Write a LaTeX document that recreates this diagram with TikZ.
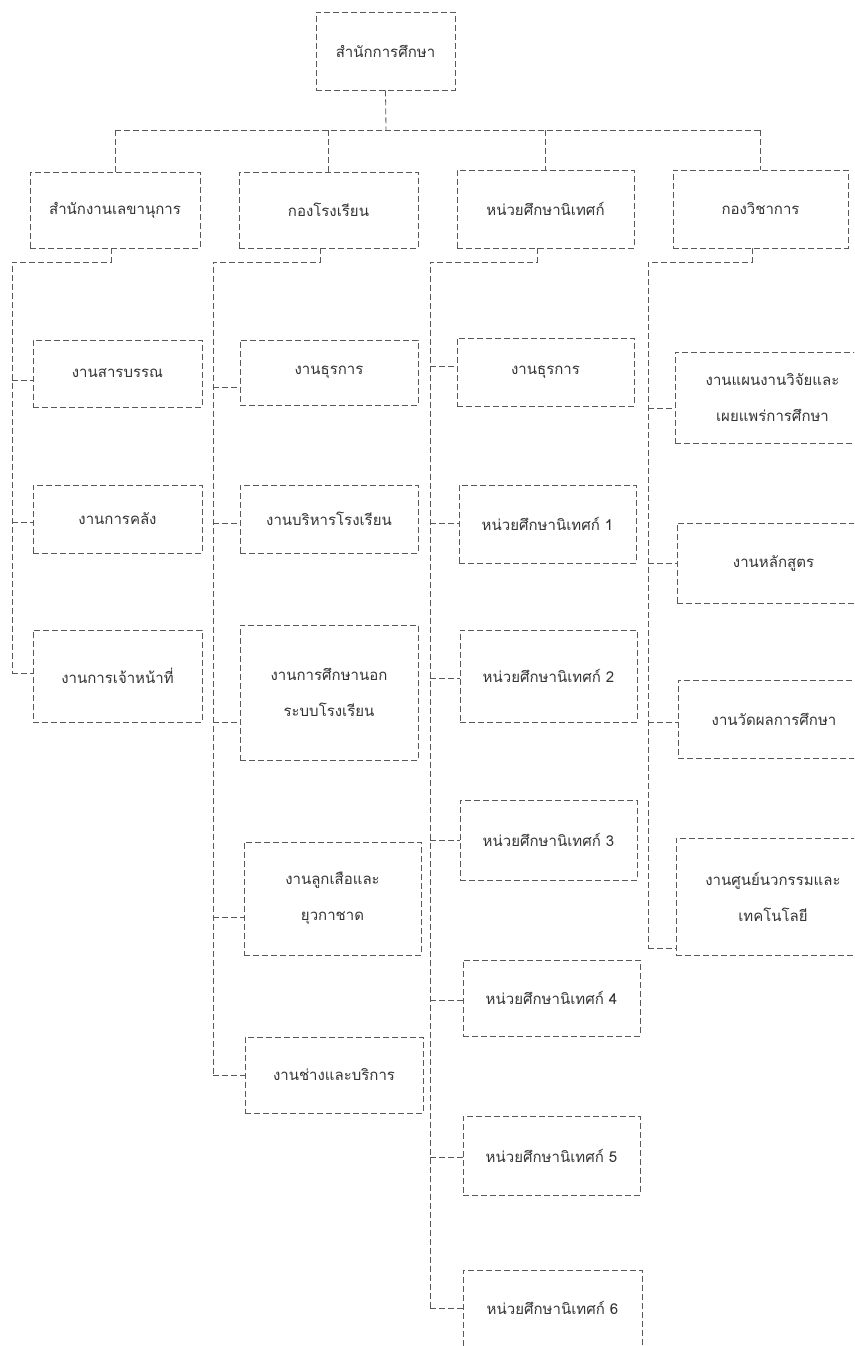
\documentclass[tikz,border=0pt]{standalone}
\usepackage{fontspec}
\newfontfamily\thai[Script=Thai]{Loma}
\definecolor{ln}{gray}{0.35}
\definecolor{tx}{gray}{0.2}
\newcommand\bx[6]{\node[box, minimum width={#4-#2}, minimum height={#5-#3}] (#1) at ({(#2+#4)/2},{(#3+#5)/2}) {#6};}
\begin{document}
\begin{tikzpicture}[x=1pt,y=-1pt,
  box/.style={draw=ln, dash pattern=on 6pt off 3pt, line width=0.8pt, inner sep=0pt,
    align=center, text=tx, font=\thai\fontsize{15}{36}\selectfont},
  conn/.style={draw=ln, dash pattern=on 6pt off 3pt, line width=0.8pt}]
\useasboundingbox (0,0) rectangle (854,1346);
\clip (0,0) rectangle (854,1346);
% top
\bx{top}{316}{12}{455}{90}{สำนักการศึกษา}
% level 2
\bx{L1}{30}{172}{200}{248}{สำนักงานเลขานุการ}
\bx{L2}{239}{172}{418}{248}{กองโรงเรียน}
\bx{L3}{457}{170}{634}{248}{หน่วยศึกษานิเทศก์}
\bx{L4}{673}{170}{848}{248}{กองวิชาการ}
% column 1
\bx{A1}{33}{340}{202}{407}{งานสารบรรณ}
\bx{A2}{33}{485}{202}{553}{งานการคลัง}
\bx{A3}{33}{630}{202}{722}{งานการเจ้าหน้าที่}
% column 2
\bx{B1}{240}{340}{418}{405}{งานธุรการ}
\bx{B2}{240}{485}{418}{553}{งานบริหารโรงเรียน}
\bx{B3}{240}{625}{418}{760}{งานการศึกษานอก\\ระบบโรงเรียน}
\bx{B4}{244}{842}{421}{955}{งานลูกเสือและ\\ยุวกาชาด}
\bx{B5}{245}{1037}{423}{1113}{งานช่างและบริการ}
% column 3
\bx{C1}{457}{338}{634}{406}{งานธุรการ}
\bx{C2}{459}{485}{636}{563}{หน่วยศึกษานิเทศก์ 1}
\bx{C3}{460}{630}{637}{722}{หน่วยศึกษานิเทศก์ 2}
\bx{C4}{460}{800}{637}{880}{หน่วยศึกษานิเทศก์ 3}
\bx{C5}{463}{960}{640}{1036}{หน่วยศึกษานิเทศก์ 4}
\bx{C6}{463}{1116}{640}{1195}{หน่วยศึกษานิเทศก์ 5}
\bx{C7}{463}{1270}{642}{1346}{หน่วยศึกษานิเทศก์ 6}
% column 4
\bx{D1}{675}{352}{870}{443}{งานแผนงานวิจัยและ\\เผยแพร่การศึกษา}
\bx{D2}{677}{523}{870}{603}{งานหลักสูตร}
\bx{D3}{678}{680}{870}{758}{งานวัดผลการศึกษา}
\bx{D4}{676}{838}{870}{955}{งานศูนย์นวกรรมและ\\เทคโนโลยี}
% bus
\coordinate (bus) at (386,130);
\draw[conn] (top.south) -- (bus);
\draw[conn] (L1.north |- bus) -- (L4.north |- bus);
\foreach \n in {L1,L2,L3,L4} \draw[conn] (\n.north |- bus) -- (\n.north);
% column heads
\coordinate (h1) at (12,262);
\coordinate (h2) at (213,262);
\coordinate (h3) at (430,262);
\coordinate (h4) at (648,262);
\draw[conn] ([xshift=-4pt]L1.south) -- ([xshift=-4pt]L1.south |- h1) -- (h1) -- (h1 |- 0,673);
\draw[conn] ([xshift=-8pt]L2.south) -- ([xshift=-8pt]L2.south |- h2) -- (h2) -- (h2 |- 0,1075);
\draw[conn] ([xshift=-8pt]L3.south) -- ([xshift=-8pt]L3.south |- h3) -- (h3) -- (h3 |- 0,1308);
\draw[conn] ([xshift=-8pt]L4.south) -- ([xshift=-8pt]L4.south |- h4) -- (h4) -- (h4 |- 0,948);
% branches col 1
\draw[conn] (h1 |- 0,380) -- (A1.west |- 0,380);
\draw[conn] (h1 |- 0,522) -- (A2.west |- 0,522);
\draw[conn] (h1 |- 0,673) -- (A3.west |- 0,673);
% branches col 2
\draw[conn] (h2 |- 0,387) -- (B1.west |- 0,387);
\draw[conn] (h2 |- 0,523) -- (B2.west |- 0,523);
\draw[conn] (h2 |- 0,722) -- (B3.west |- 0,722);
\draw[conn] (h2 |- 0,917) -- (B4.west |- 0,917);
\draw[conn] (h2 |- 0,1075) -- (B5.west |- 0,1075);
% branches col 3
\draw[conn] (h3 |- 0,366) -- (C1.west |- 0,366);
\draw[conn] (h3 |- 0,523) -- (C2.west |- 0,523);
\draw[conn] (h3 |- 0,678) -- (C3.west |- 0,678);
\draw[conn] (h3 |- 0,840) -- (C4.west |- 0,840);
\draw[conn] (h3 |- 0,1000) -- (C5.west |- 0,1000);
\draw[conn] (h3 |- 0,1157) -- (C6.west |- 0,1157);
\draw[conn] (h3 |- 0,1308) -- (C7.west |- 0,1308);
% branches col 4
\draw[conn] (h4 |- 0,408) -- (D1.west |- 0,408);
\draw[conn] (h4 |- 0,563) -- (D2.west |- 0,563);
\draw[conn] (h4 |- 0,722) -- (D3.west |- 0,722);
\draw[conn] (h4 |- 0,948) -- (D4.west |- 0,948);
\end{tikzpicture}
\end{document}
